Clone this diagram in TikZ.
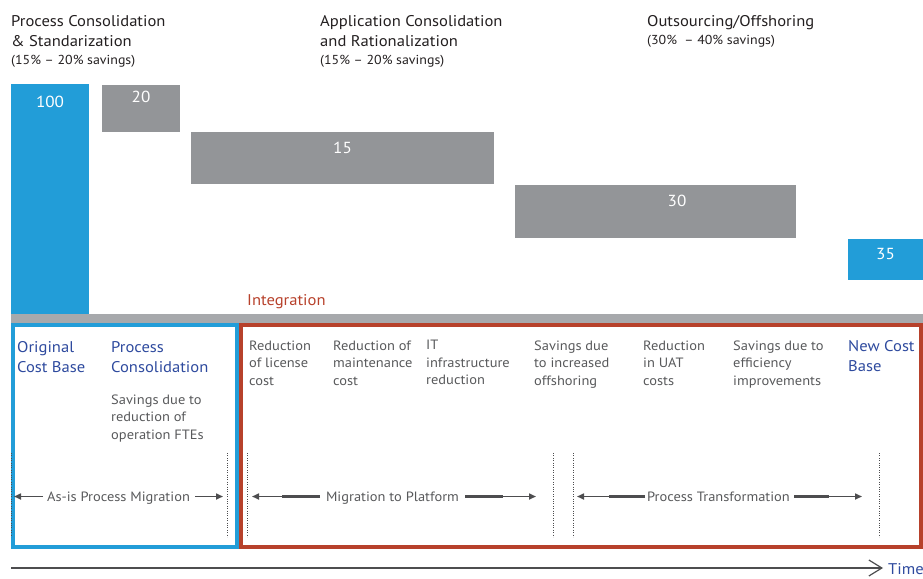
\documentclass[tikz,border=0pt]{standalone}
\usepackage{fontspec}
\setmainfont{PT Sans}[FakeStretch=1.07]
\usetikzlibrary{arrows.meta}

\definecolor{barblue}{HTML}{229DD8}
\definecolor{bargray}{HTML}{939598}
\definecolor{bandgray}{HTML}{A7A9AC}
\definecolor{boxred}{HTML}{B7412B}
\definecolor{txtgray}{HTML}{58595B}
\definecolor{txtblue}{HTML}{2E4A9E}
\definecolor{arrgray}{HTML}{4D4D4F}
\definecolor{headtxt}{HTML}{231F20}

\tikzset{
  heading/.style={anchor=north west, inner sep=0pt, align=left, text=headtxt,
    font=\fontsize{15.5}{20}\selectfont},
  subhead/.style={anchor=base west, inner sep=0pt, text=headtxt,
    font=\fontsize{13}{15}\selectfont},
  barlabel/.style={anchor=base, inner sep=0pt, text=white,
    font=\fontsize{16}{18}\selectfont},
  stagelabel/.style={anchor=north west, inner sep=0pt, align=left, text=txtblue,
    font=\fontsize{15.5}{20}\selectfont},
  itemlabel/.style={anchor=north west, inner sep=0pt, align=left, text=txtgray,
    font=\fontsize{13.5}{17.5}\selectfont},
  phaselabel/.style={anchor=base, inner sep=0pt, text=txtgray,
    font=\fontsize{13.5}{16}\selectfont},
  thinarrow/.style={draw=arrgray, line width=1.6pt, -{Triangle[length=7pt,width=6pt]}},
  thickseg/.style={draw=arrgray, line width=3.5pt},
  marker/.style={draw=arrgray, line width=1pt, dash pattern=on 1pt off 1.4pt},
}

\begin{document}
\begin{tikzpicture}[x=1pt,y=-1pt]
\useasboundingbox (0,0) rectangle (923,578);

% ---- headings ----
\node[heading] (h1) at (11,15.6) {Process Consolidation\\\& Standarization};
\node[subhead] (s1) at (11,65) {(15\% – 20\% savings)};
\node[heading] (h2) at (320,15.6) {Application Consolidation\\and Rationalization};
\node[subhead] (s2) at (320,65) {(15\% – 20\% savings)};
\node[heading] (h3) at (647,15.6) {Outsourcing/Offshoring};
\node[subhead] (s3) at (647,45) {(30\%\ \ – 40\% savings)};

% ---- waterfall bars ----
\fill[barblue] (11,84) rectangle (89,316);
\fill[bargray] (102,85) rectangle (180,132);
\fill[bargray] (191,132) rectangle (494,184);
\fill[bargray] (515,185) rectangle (796,238);
\fill[barblue] (848,239) rectangle (923,280);
\node[barlabel] (v100) at (50,107) {100};
\node[barlabel] (v20) at (141,102) {20};
\node[barlabel] (v15) at (342.5,153) {15};
\node[barlabel] (v30) at (677,206) {30};
\node[barlabel] (v35) at (885.5,259) {35};

% ---- baseline band ----
\fill[bandgray] (11,314) rectangle (923,323);
\node[anchor=base west, inner sep=0pt, text=boxred, font=\fontsize{15.5}{18}\selectfont]
  (integ) at (247,305) {Integration};

% ---- phase frames ----
\draw[barblue, line width=4pt] (13,325) rectangle (236.5,547);
\draw[boxred, line width=4pt] (241,325) rectangle (920.5,547);

% ---- stage descriptions ----
\node[stagelabel] (orig) at (17,341.5) {Original\\Cost Base};
\node[stagelabel] (pcons) at (111,341.5) {Process\\Consolidation};
\node[itemlabel] (fte) at (111,394.3) {Savings due to\\reduction of\\operation FTEs};
\node[itemlabel] (lic) at (249,340.3) {Reduction\\of license\\cost};
\node[itemlabel] (maint) at (333,340.3) {Reduction of\\maintenance\\cost};
\node[itemlabel] (infra) at (426,340.3) {IT\\infrastructure\\reduction};
\node[itemlabel] (offs) at (534,340.3) {Savings due\\to increased\\offshoring};
\node[itemlabel] (uat) at (643,340.3) {Reduction\\in UAT\\costs};
\node[itemlabel] (eff) at (733,340.3) {Savings due to\\efficiency\\improvements};
\node[stagelabel] (newc) at (848,340.5) {New Cost\\Base};

% ---- phase boundaries ----
\coordinate (d1t) at (11,453);  \coordinate (d1b) at (11,537);
\coordinate (d2t) at (227,453); \coordinate (d2b) at (227,537);
\coordinate (d3t) at (247,453); \coordinate (d3b) at (247,537);
\coordinate (d4t) at (553,453); \coordinate (d4b) at (553,537);
\coordinate (d5t) at (573,453); \coordinate (d5b) at (573,537);
\coordinate (d6t) at (879,453); \coordinate (d6b) at (879,537);
\foreach \i in {1,...,6} \draw[marker] (d\i t) -- (d\i b);

% ---- phase spans ----
\node[phaselabel] (asis) at (118.5,501) {As-is Process Migration};
\coordinate (a1l) at (14,496.5);  \coordinate (a1r) at (223,496.5);
\draw[thinarrow] (43,496.5) -- (a1l);
\draw[thinarrow] (195,496.5) -- (a1r);

\node[phaselabel] (migr) at (392.5,501) {Migration to Platform};
\coordinate (a2l) at (252,496.5); \coordinate (a2r) at (536,496.5);
\draw[thickseg] (320,496.5) -- (282,496.5);
\draw[thinarrow] (283,496.5) -- (a2l);
\draw[thickseg] (465,496.5) -- (503,496.5);
\draw[thinarrow] (502,496.5) -- (a2r);

\node[phaselabel] (trans) at (718.5,501) {Process Transformation};
\coordinate (a3l) at (577,496.5); \coordinate (a3r) at (862,496.5);
\draw[thickseg] (645,496.5) -- (609,496.5);
\draw[thinarrow] (610,496.5) -- (a3l);
\draw[thickseg] (794,496.5) -- (829,496.5);
\draw[thinarrow] (828,496.5) -- (a3r);

% ---- time axis ----
\node[anchor=base west, inner sep=0pt, text=txtblue, font=\fontsize{15.5}{18}\selectfont]
  (time) at (888,574) {Time};
\coordinate (t0) at (11,568);
\draw[arrgray, line width=2pt, -{Straight Barb[length=13pt,width=16pt,line width=1.2pt]}]
  (t0) -- ([xshift=-5pt]time.west |- t0);
\end{tikzpicture}
\end{document}
